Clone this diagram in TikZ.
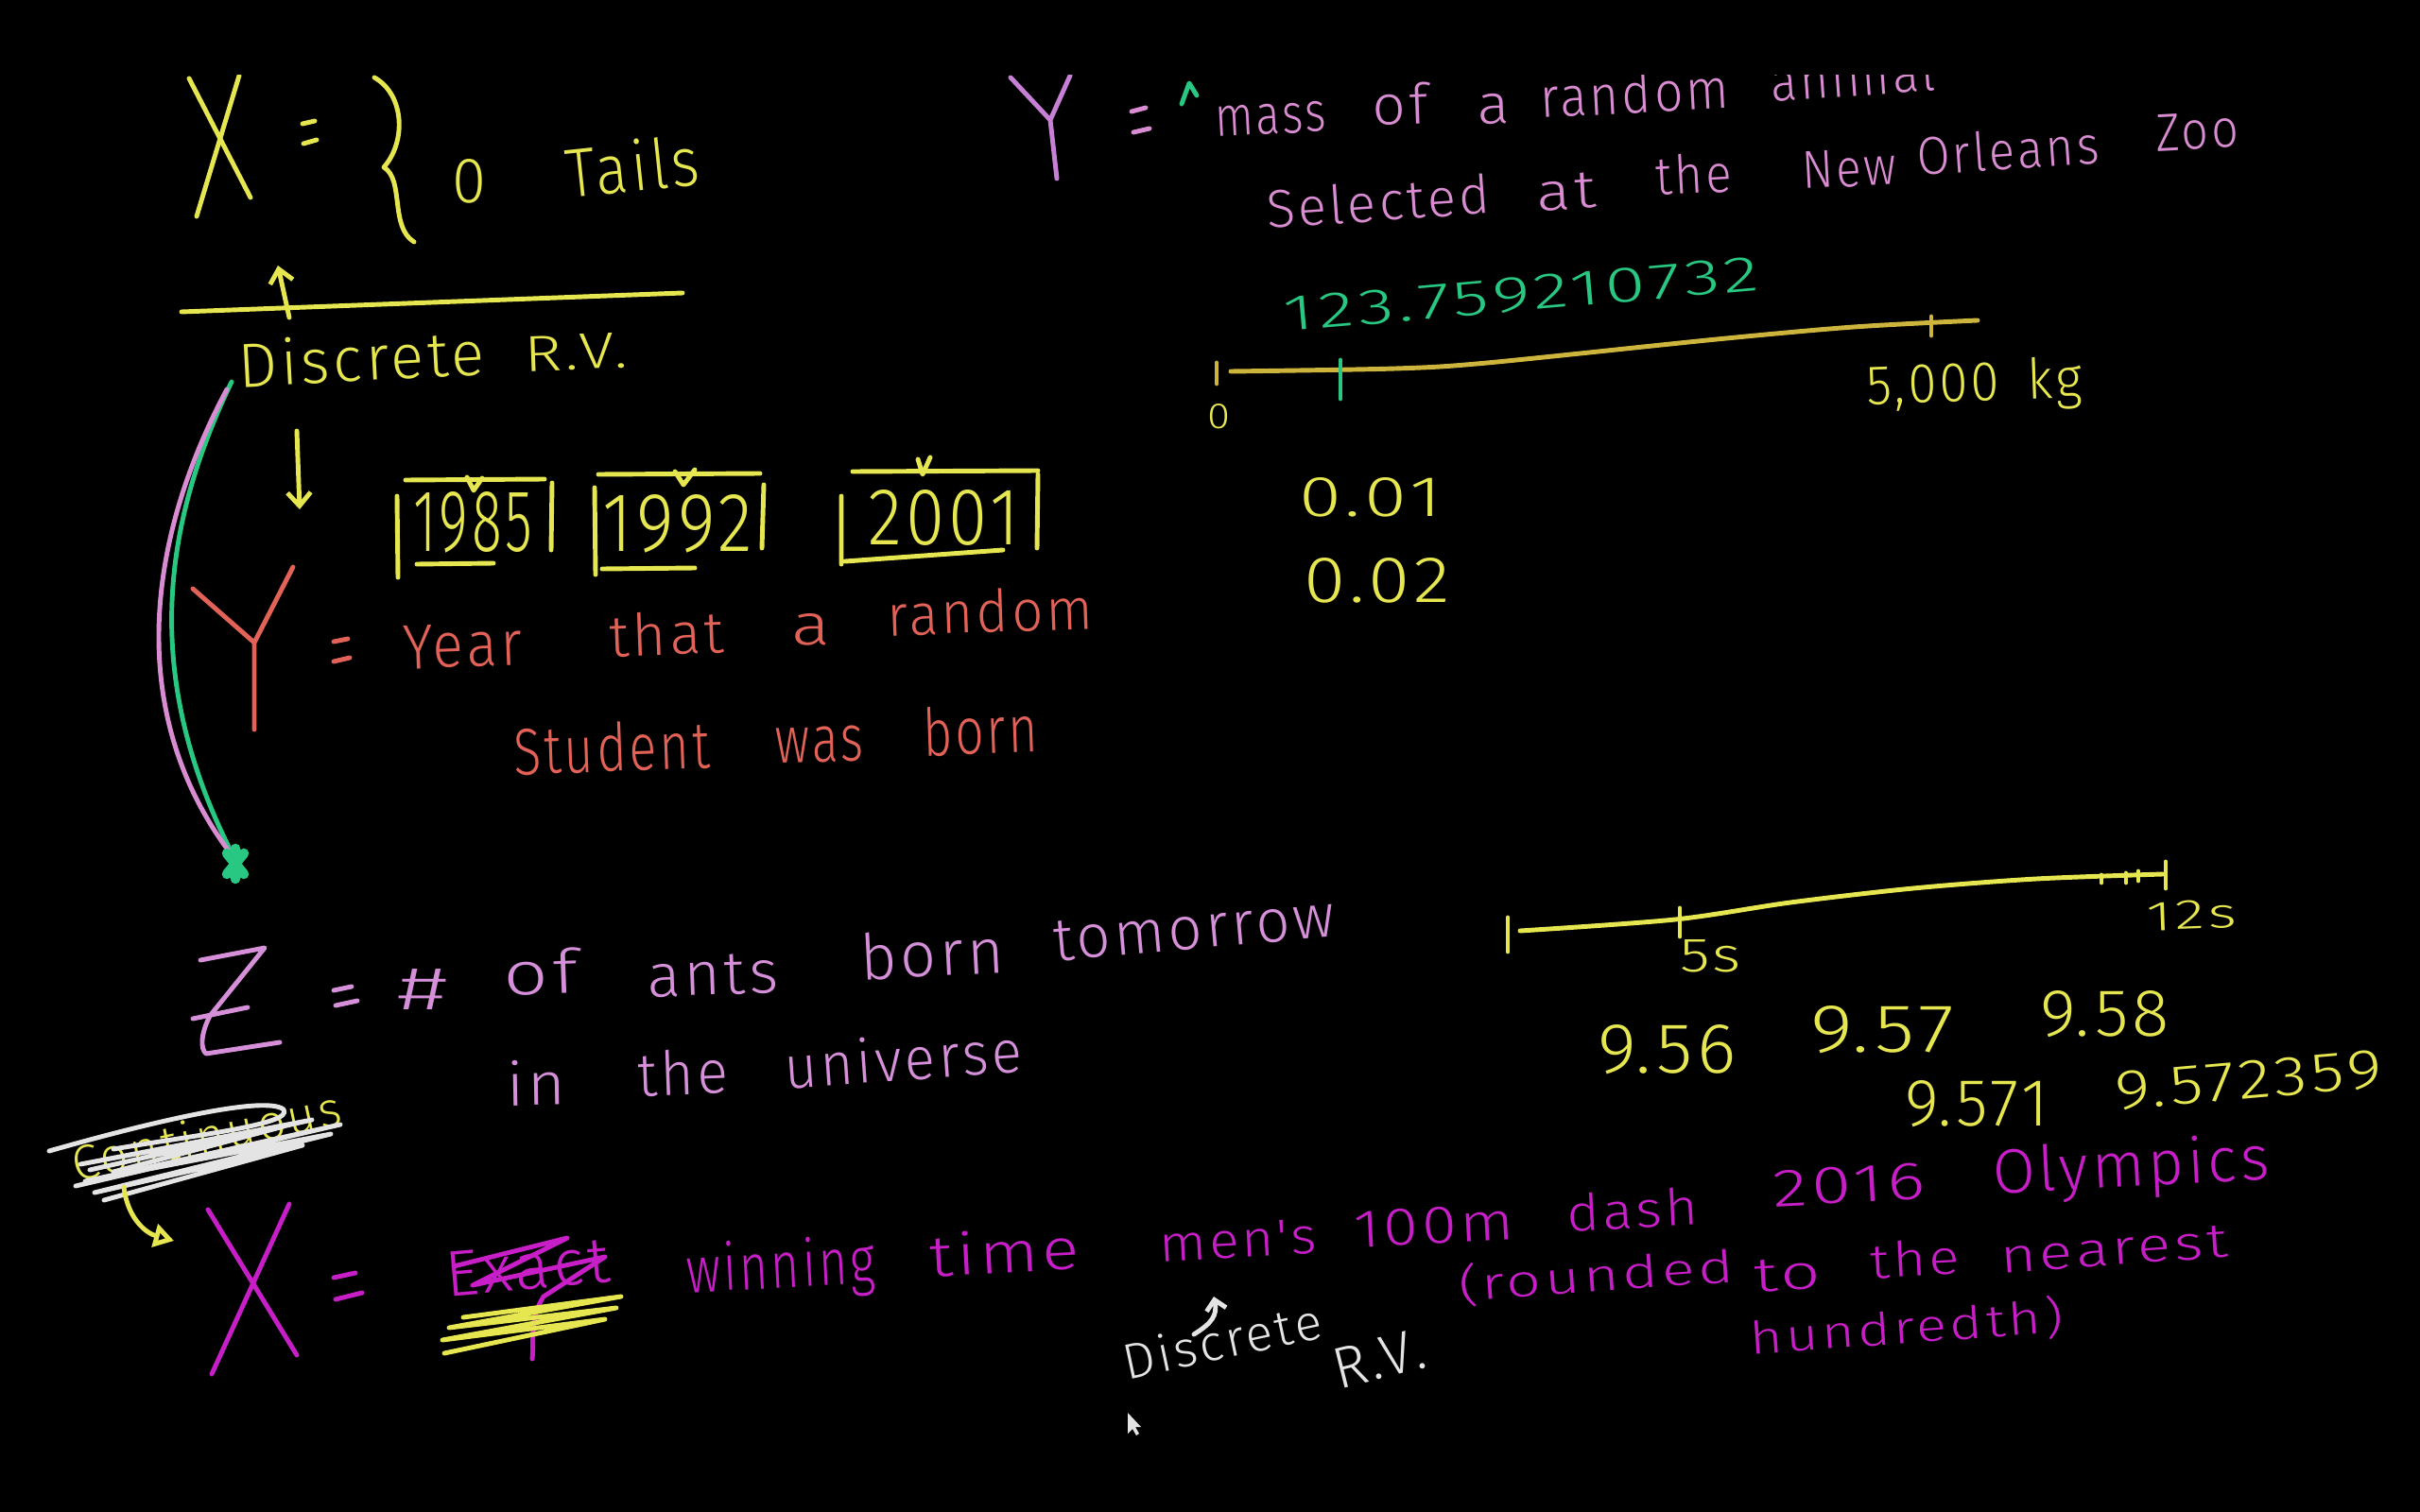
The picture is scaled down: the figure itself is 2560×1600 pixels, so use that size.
\documentclass[tikz,border=0pt]{standalone}
\usepackage{fontspec}
\newfontfamily\hand{Fira Sans Light}[LetterSpace=6,WordSpace=1.6]
\usetikzlibrary{arrows.meta}
\definecolor{yel}{RGB}{230,230,80}
\definecolor{goldc}{RGB}{205,180,60}
\definecolor{redc}{RGB}{226,98,88}
\definecolor{pinkc}{RGB}{218,140,210}
\definecolor{violetc}{RGB}{200,128,214}
\definecolor{zpink}{RGB}{214,144,218}
\definecolor{mag}{RGB}{200,30,200}
\definecolor{greenc}{RGB}{40,200,130}
\definecolor{whitec}{RGB}{228,228,228}
\newlength\pxu \setlength\pxu{0.01cm}
\newcommand\hw[2]{\resizebox{#1\pxu}{!}{\hand #2}}
\newcommand\hwh[3]{\resizebox{#1\pxu}{#2\pxu}{\hand #3}}
% word node: name, colour, x, y (left baseline), width, ascender height, rotation, text
\newcommand\wrd[8]{\node[txt,text=#2,rotate=#7] (#1) at (#3,#4) {\resizebox{#5\pxu}{#6\pxu}{\hand\vphantom{dl}#8}};}
\begin{document}
\begin{tikzpicture}[x=0.01cm,y=-0.01cm,
  pen/.style={line width=1.4pt,line cap=round,line join=round},
  txt/.style={inner sep=0pt,outer sep=0pt,anchor=base west},
  dig/.style={inner sep=0pt,outer sep=0pt,anchor=south west},
  barb/.style={-{Straight Barb[length=4pt,width=7pt]}}]
\fill[black] (0,0) rectangle (2560,1600);
\useasboundingbox (0,0) rectangle (2560,1600);
\begin{scope}
\clip (0,80) rectangle (2560,1600);
% ---------- top left ----------
\draw[pen,yel] (200,83) -- (265,209);
\draw[pen,yel] (253,80) -- (208,229);
\draw[pen,yel] (320,131) -- (333,128) (321,152) -- (335,148);
\draw[pen,yel] (396,82) .. controls (428,100) and (430,150) .. (406,177) .. controls (428,190) and (412,240) .. (438,256);
\node[dig,text=yel] (zeroA) at (478,215) {\hwh{36}{46}{0}};
\wrd{tails}{yel}{601}{210}{142}{55}{6}{Tails}
\coordinate (lineA) at (192,330);
\coordinate (lineB) at (722,310);
\draw[pen,yel] (lineA) -- (lineB);
\coordinate (upA) at (306,336);
\coordinate (upB) at (294,281);
\draw[pen,yel,barb] (upA) -- (upB);
\wrd{drvA}{yel}{253}{410}{261}{50}{3}{Discrete}
\wrd{drvB}{yel}{555}{393}{110}{40}{2}{R.V.}
\coordinate (dnA) at (314,456);
\coordinate (dnB) at (317,539);
\draw[pen,yel,barb] (dnA) -- (dnB);
% boxes
\draw[pen,yel] (420,525)--(421,611) (584,511)--(583,582) (429,508)--(576,507) (441,597)--(522,596);
\node[dig,text=yel] (y1985) at (437,585) {\hwh{126}{63}{1985}};
\draw[pen,yel] (629,516)--(630,608) (808,513)--(806,580) (633,502)--(804,501) (637,602)--(735,601);
\node[dig,text=yel] (y1992) at (637,585) {\hwh{159}{60}{1992}};
\draw[pen,yel] (890,525)--(890,597) (1098,502)--(1097,580) (902,499)--(1098,498) (894,594)--(1061,582);
\node[dig,text=yel] (y2001) at (918,577) {\hwh{160}{58}{2001}};
\draw[pen,yel] (494,505)--(501,519)--(510,506);
\draw[pen,yel] (714,499)--(723,513)--(735,497);
\draw[pen,yel] (971,486)--(976,502)--(984,484);
% red Y
\draw[pen,redc] (204,623)--(269,680)--(310,600) (269,680)--(269,772);
\draw[pen,redc] (353,679)--(368,676) (353,700)--(370,696);
\wrd{yearA}{redc}{427}{708}{126}{50}{2}{Year}
\wrd{yearB}{redc}{645}{695}{122}{46}{2}{that}
\wrd{yearC}{redc}{837}{682}{41}{46}{0}{a}
\wrd{yearD}{redc}{939}{673}{218}{46}{2}{random}
\wrd{stuA}{redc}{544}{820}{208}{52}{2}{Student}
\wrd{stuB}{redc}{820}{807}{94}{52}{1}{was}
\wrd{stuC}{redc}{977}{800}{122}{52}{2}{born}
% curved connectors
\coordinate (cS) at (245,404);
\coordinate (cE) at (249,910);
\draw[pen,greenc] (cS) .. controls (170,560) and (150,720) .. (cE);
\draw[pen,pinkc] (240,412) .. controls (148,585) and (138,765) .. (246,906);
\draw[greenc,line width=3pt,line cap=round] (240,903)--(258,925) (258,903)--(240,925) (249,898)--(249,930);
% ---------- top right ----------
\draw[pen,violetc] (1069,82)--(1111,127)--(1132,80) (1111,127)--(1118,189);
\draw[pen,pinkc] (1197,118)--(1212,114) (1199,140)--(1216,136);
\draw[pen,greenc] (1250,110)--(1258,88)--(1266,101);
\wrd{massA}{pinkc}{1286}{145}{118}{44}{3}{mass}
\wrd{massB}{pinkc}{1452}{133}{59}{44}{2}{of}
\wrd{massC}{pinkc}{1563}{132}{34}{44}{2}{a}
\wrd{massD}{pinkc}{1630}{125}{200}{44}{3}{random}
\wrd{massE}{pinkc}{1874}{108}{175}{44}{4}{animal}
\wrd{selA}{pinkc}{1341}{242}{237}{42}{4}{Selected}
\wrd{selB}{pinkc}{1626}{223}{63}{42}{3}{at}
\wrd{selC}{pinkc}{1752}{207}{81}{42}{3}{the}
\wrd{selD}{pinkc}{1907}{200}{100}{42}{3}{New}
\wrd{selE}{pinkc}{2029}{186}{193}{42}{4}{Orleans}
\wrd{selF}{pinkc}{2281}{160}{88}{42}{3}{Zoo}
\node[dig,text=greenc,rotate=5] (num) at (1360,352) {\hwh{504}{36}{123.759210732}};
\draw[pen,goldc] plot[smooth] coordinates {(1302,393) (1476,390) (1573,384) (1816,359) (1961,346) (2092,339)};
\draw[pen,goldc] (1287,384)--(1287,406) (2043,335)--(2043,355);
\draw[pen,greenc] (1418,381)--(1418,422);
\node[dig,text=yel] (zeroB) at (1277,454) {\hwh{24}{26}{0}};
\node[txt,text=yel,rotate=2] (kg) at (1975,428) {\hwh{228}{44}{5,000 kg}};
\node[dig,text=yel] (p01) at (1374,547) {\hwh{151}{41}{0.01}};
\node[dig,text=yel] (p02) at (1379,638) {\hwh{155}{47}{0.02}};
% ---------- Z ----------
\draw[pen,zpink] (212,1016)--(280,1003)--(222,1075) .. controls (212,1095) and (212,1110) .. (218,1115)--(296,1103);
\draw[pen,zpink] (204,1078)--(262,1066);
\draw[pen,zpink] (353,1048)--(372,1044) (355,1064)--(378,1059);
\wrd{antA}{zpink}{420}{1068}{53}{48}{0}{\#}
\wrd{antB}{zpink}{533}{1053}{79}{48}{2}{of}
\wrd{antC}{zpink}{685}{1055}{139}{48}{2}{ants}
\wrd{antD}{zpink}{911}{1037}{152}{50}{3}{born}
\wrd{antE}{zpink}{1116}{1017}{299}{48}{5}{tomorrow}
\wrd{uniA}{zpink}{536}{1170}{63}{48}{1}{in}
\wrd{uniB}{zpink}{675}{1160}{96}{48}{2}{the}
\wrd{uniC}{zpink}{831}{1152}{252}{48}{4}{universe}
% second number line
\draw[pen,yel] plot[smooth] coordinates {(1608,985) (1772,973) (1894,955) (2024,940) (2154,930) (2288,925)};
\draw[pen,yel] (1595,971)--(1595,1007) (1777,961)--(1777,991) (2223,926)--(2223,934) (2249,924)--(2249,934) (2262,922)--(2262,932) (2291,912)--(2291,940);
\node[dig,text=yel] (fives) at (1777,1029) {\hwh{65}{34}{5s}};
\node[txt,text=yel,rotate=2] (twelve) at (2271,985) {\hwh{96}{30}{12s}};
\node[dig,text=yel] (v956) at (1690,1137) {\hwh{147}{51}{9.56}};
\node[dig,text=yel] (v957) at (1915,1115) {\hwh{152}{49}{9.57}};
\node[dig,text=yel] (v958) at (2158,1098) {\hwh{137}{48}{9.58}};
\node[dig,text=yel] (v9571) at (2015,1193) {\hwh{152}{48}{9.571}};
\node[dig,text=yel,rotate=5] (v9572) at (2240,1176) {\hwh{283}{40}{9.572359}};
% ---------- crossed out word ----------
\node[txt,text=yel,rotate=12] (cont) at (80,1250) {\hw{290}{Continuous}};
\draw[pen,whitec] (52,1218) .. controls (150,1190) and (280,1158) .. (300,1174) .. controls (312,1190) and (200,1202) .. (120,1216);
\draw[pen,whitec] (80,1255)--(360,1190)--(90,1250)--(350,1200)--(100,1262)--(320,1212)--(110,1270);
\draw[pen,whitec] (95,1238)--(330,1185)--(85,1232)--(300,1192)--(120,1240);
\coordinate (yaS) at (131,1256);
\coordinate (yaE) at (184,1313);
\draw[pen,yel,-{Triangle[open,length=6pt,width=7pt]}] (yaS) .. controls (135,1290) and (155,1305) .. (yaE);
% ---------- magenta X ----------
\draw[pen,mag] (220,1280)--(314,1434) (306,1274)--(224,1454);
\draw[pen,mag] (353,1352)--(376,1347) (355,1375)--(383,1368);
\node[txt,text=mag,rotate=5] (exact) at (473,1372) {\hw{175}{Exact}};
\draw[pen,mag] (480,1340)--(600,1310)--(500,1360)--(640,1330)--(575,1372) .. controls (560,1395) and (565,1420) .. (563,1438);
\draw[pen,yel] (470,1432)--(640,1396)--(468,1418)--(652,1384)--(475,1405)--(657,1372)--(490,1394);
\wrd{win}{mag}{727}{1368}{200}{52}{3}{winning}
\wrd{time}{mag}{984}{1351}{159}{46}{3}{time}
\wrd{menA}{mag}{1227}{1335}{167}{40}{3}{men's}
\wrd{menB}{mag}{1433}{1320}{170}{42}{3}{100m}
\wrd{menC}{mag}{1658}{1303}{139}{40}{3}{dash}
\wrd{menD}{mag}{1876}{1277}{162}{42}{3}{2016}
\wrd{menE}{mag}{2109}{1263}{293}{50}{3}{Olympics}
\wrd{rndA}{mag}{1544}{1377}{292}{40}{4}{(rounded}
\wrd{rndB}{mag}{1856}{1367}{71}{38}{3}{to}
\wrd{rndC}{mag}{1979}{1353}{95}{38}{3}{the}
\wrd{rndD}{mag}{2117}{1347}{241}{38}{4}{nearest}
\wrd{hund}{mag}{1852}{1433}{332}{40}{4}{hundredth)}
% white note
\wrd{wdisc}{whitec}{1192}{1460}{214}{40}{12}{Discrete}
\wrd{wrv}{whitec}{1416}{1470}{98}{46}{14}{R.V.}
\coordinate (waS) at (1263,1412);
\coordinate (waE) at (1284,1372);
\draw[pen,whitec,-{Straight Barb[length=3pt,width=6pt]}] (waS) .. controls (1282,1400) and (1288,1392) .. (waE);
% cursor
\fill[whitec] (1193,1495) -- (1193,1517) -- (1198,1512) -- (1202,1519) -- (1205,1517) -- (1201,1510) -- (1207,1510) -- cycle;
\end{scope}
\end{tikzpicture}
\end{document}
